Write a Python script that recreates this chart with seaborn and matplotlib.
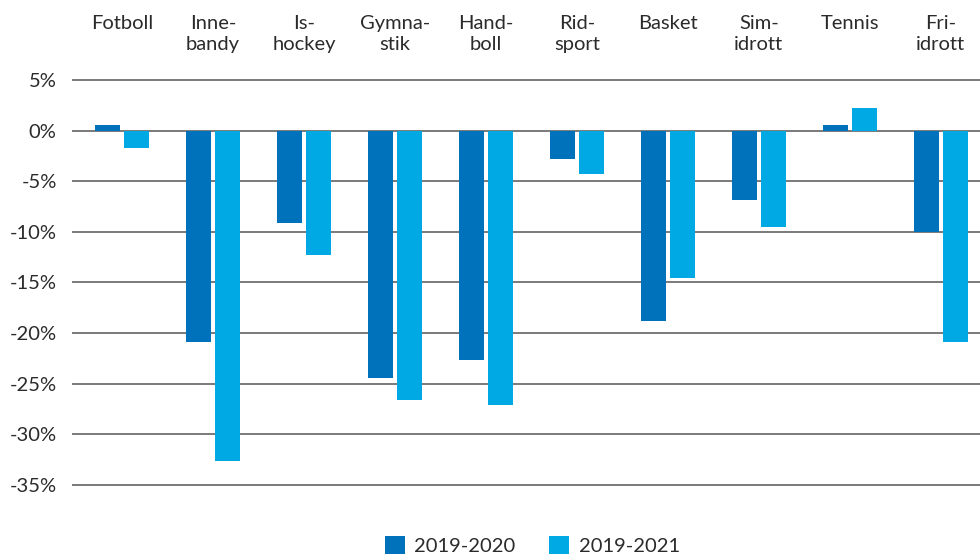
import pandas as pd
import numpy as np
import seaborn as sns
import matplotlib.pyplot as plt
from matplotlib.ticker import FuncFormatter

# --- data (change in members, %) ---
sports = ['Fotboll', 'Inne-\nbandy', 'Is-\nhockey', 'Gymna-\nstik', 'Hand-\nboll',
          'Rid-\nsport', 'Basket', 'Sim-\nidrott', 'Tennis', 'Fri-\nidrott']
change_2020 = [0.6, -20.9, -9.1, -24.4, -22.7, -2.8, -18.8, -6.8, 0.6, -10.0]
change_2021 = [-1.7, -32.7, -12.3, -26.6, -27.1, -4.3, -14.6, -9.5, 2.3, -20.9]
periods = ['2019-2020', '2019-2021']
yticks = [5, 0, -5, -10, -15, -20, -25, -30, -35]

df = pd.DataFrame({
    'sport': sports * 2,
    'period': [periods[0]] * len(sports) + [periods[1]] * len(sports),
    'change': change_2020 + change_2021,
})

sns.set_style('white')
plt.rcParams['font.family'] = ['Lato', 'DejaVu Sans']
txt_color = '#2b2b2b'

fig = plt.figure(figsize=(9.8, 5.54), dpi=100)
ax = fig.add_axes([72 / 980, 44 / 554, 1 - 72 / 980, 448 / 554])

palette = {'2019-2020': '#0071bb', '2019-2021': '#00a9e3'}
sns.barplot(data=df, x='sport', y='change', hue='period', palette=palette,
            width=0.64, gap=0.14, saturation=1, linewidth=0, ax=ax, zorder=3)

ax.set_xlim(-0.55, 9.43)
ax.set_ylim(-37.5, 6.8)
ax.set_yticks(yticks)
ax.yaxis.set_major_formatter(FuncFormatter(lambda v, p: f'{v:.0f}%'))
ax.tick_params(axis='y', length=0, pad=11, labelsize=14.5, labelcolor=txt_color)
ax.set_xticks([])
ax.set_xlabel('')
ax.set_ylabel('')
for s in ax.spines.values():
    s.set_visible(False)
ax.yaxis.grid(True, color='#7a7a7a', linewidth=1.4, zorder=0)

# category names above the plot
for i, name in enumerate(sports):
    ax.text(i, 1.0 + 47 / 448, name, transform=ax.get_xaxis_transform(),
            ha='center', va='top', fontsize=14.5, color=txt_color, linespacing=1.3)

ax.legend_.remove()
handles, labels = ax.get_legend_handles_labels()
fig.legend(handles, labels, loc='lower center', bbox_to_anchor=(0.543, -0.034), ncol=2,
           frameon=False, fontsize=14.5, handlelength=1.0, handleheight=1.0,
           columnspacing=1.7, handletextpad=0.45, labelcolor=txt_color)

plt.savefig('out.png', dpi=100)
